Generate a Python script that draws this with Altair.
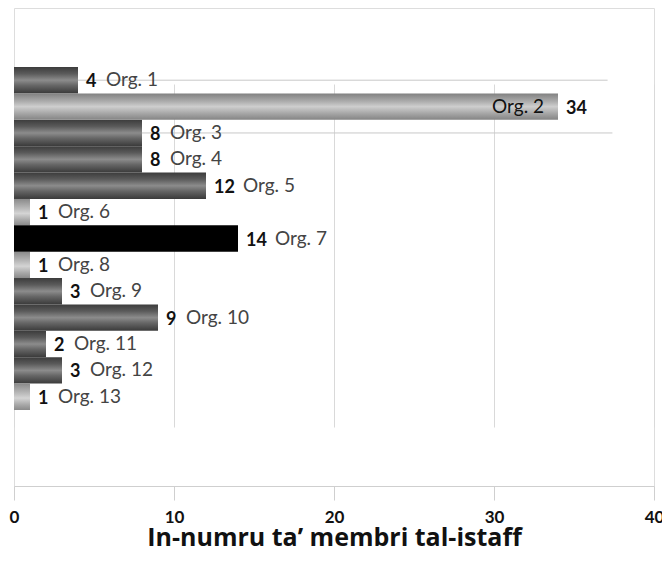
import altair as alt
import pandas as pd

orgs = ["Org. 1", "Org. 2", "Org. 3", "Org. 4", "Org. 5", "Org. 6", "Org. 7",
        "Org. 8", "Org. 9", "Org. 10", "Org. 11", "Org. 12", "Org. 13"]
values = [4, 34, 8, 8, 12, 1, 14, 1, 3, 9, 2, 3, 1]
shades = ["dark", "light", "dark", "dark", "dark", "pale", "black",
          "pale", "dark", "dark", "dark", "dark", "pale"]
# faint leader lines seen in the picture (org, end value)
leader_orgs = ["Org. 1", "Org. 3"]
leader_ends = [37.1, 37.4]
x_ticks = [0, 10, 20, 30, 40]
x_title = "In-numru ta’ membri tal-istaff"

df = pd.DataFrame({"org": orgs, "value": values, "shade": shades})
df["digits"] = df["value"].astype(str).str.len()
lead_df = pd.DataFrame({
    "org": leader_orgs,
    "start": [values[orgs.index(o)] for o in leader_orgs],
    "end": leader_ends,
})

FONT = "Lato"

y_scale = alt.Scale(domain=orgs, range=[59, 402], paddingInner=0, paddingOuter=0)
y_enc = alt.Y("org:N", sort=orgs, axis=None, scale=y_scale)
x_enc = alt.X("value:Q",
              scale=alt.Scale(domain=[0, 40], nice=False),
              axis=alt.Axis(values=x_ticks, title=x_title, grid=True,
                            gridColor="#d9d9d9", domainColor="#cfcfcf",
                            tickColor="#cfcfcf", tickSize=14, labelPadding=9,
                            labelFont=FONT, labelFontSize=17, labelFontWeight="bold",
                            labelColor="#111111", titleFont="Open Sans", titleFontSize=25,
                            titleFontWeight="bold", titleColor="#111111",
                            titlePadding=0, labelFlush=False))

def grad(stops):
    return alt.Gradient(gradient="linear", x1=0, x2=0, y1=0, y2=1,
                        stops=[alt.GradientStop(offset=o, color=c) for o, c in stops])

fills = {
    "dark": grad([(0, "#3c3c3c"), (0.25, "#5a5a5a"), (0.5, "#8c8c8c"),
                  (0.7, "#666666"), (1, "#3a3a3a")]),
    "light": grad([(0, "#808080"), (0.3, "#acacac"), (0.5, "#cecece"),
                   (0.75, "#a8a8a8"), (1, "#848484")]),
    "pale": grad([(0, "#8a8a8a"), (0.35, "#b8b8b8"), (0.55, "#d4d4d4"),
                  (0.8, "#a8a8a8"), (1, "#8a8a8a")]),
    "black": "#000000",
}

base = alt.Chart(df)

bars = [
    base.transform_filter(alt.datum.shade == s)
    .mark_bar(color=fills[s])
    .encode(x=x_enc, y=y_enc)
    for s in ["dark", "light", "pale", "black"]
]

leaders = alt.Chart(lead_df).mark_rule(color="#c8c8c8", strokeWidth=1).encode(
    x="start:Q", x2="end:Q", y=y_enc,
)

num_text = base.mark_text(align="left", baseline="middle", dx=8, dy=2,
                          font=FONT, fontSize=18, fontWeight="bold",
                          color="#111111").encode(
    x=alt.X("value:Q"), y=y_enc, text="value:Q")

org_one = base.transform_filter((alt.datum.digits == 1)).mark_text(
    align="left", baseline="middle", dx=28, font=FONT, fontSize=19,
    color="#444444").encode(x="value:Q", y=y_enc, text="org:N")
org_two = base.transform_filter((alt.datum.digits == 2) & (alt.datum.value < 30)).mark_text(
    align="left", baseline="middle", dx=37, font=FONT, fontSize=19,
    color="#444444").encode(x="value:Q", y=y_enc, text="org:N")
org_in = base.transform_filter(alt.datum.value >= 30).mark_text(
    align="right", baseline="middle", dx=-14, font=FONT, fontSize=19,
    color="#111111").encode(x="value:Q", y=y_enc, text="org:N")

chart = alt.layer(leaders, *bars, num_text, org_one, org_two, org_in).properties(
    width=640, height=478,
    autosize=alt.AutoSizeParams(type="none"),
    padding={"left": 6, "top": 0, "right": 8, "bottom": 68},
).configure_view(strokeOpacity=0).configure(background="white")

chart.save("out.html", embed_options={"renderer": "svg", "actions": False})
